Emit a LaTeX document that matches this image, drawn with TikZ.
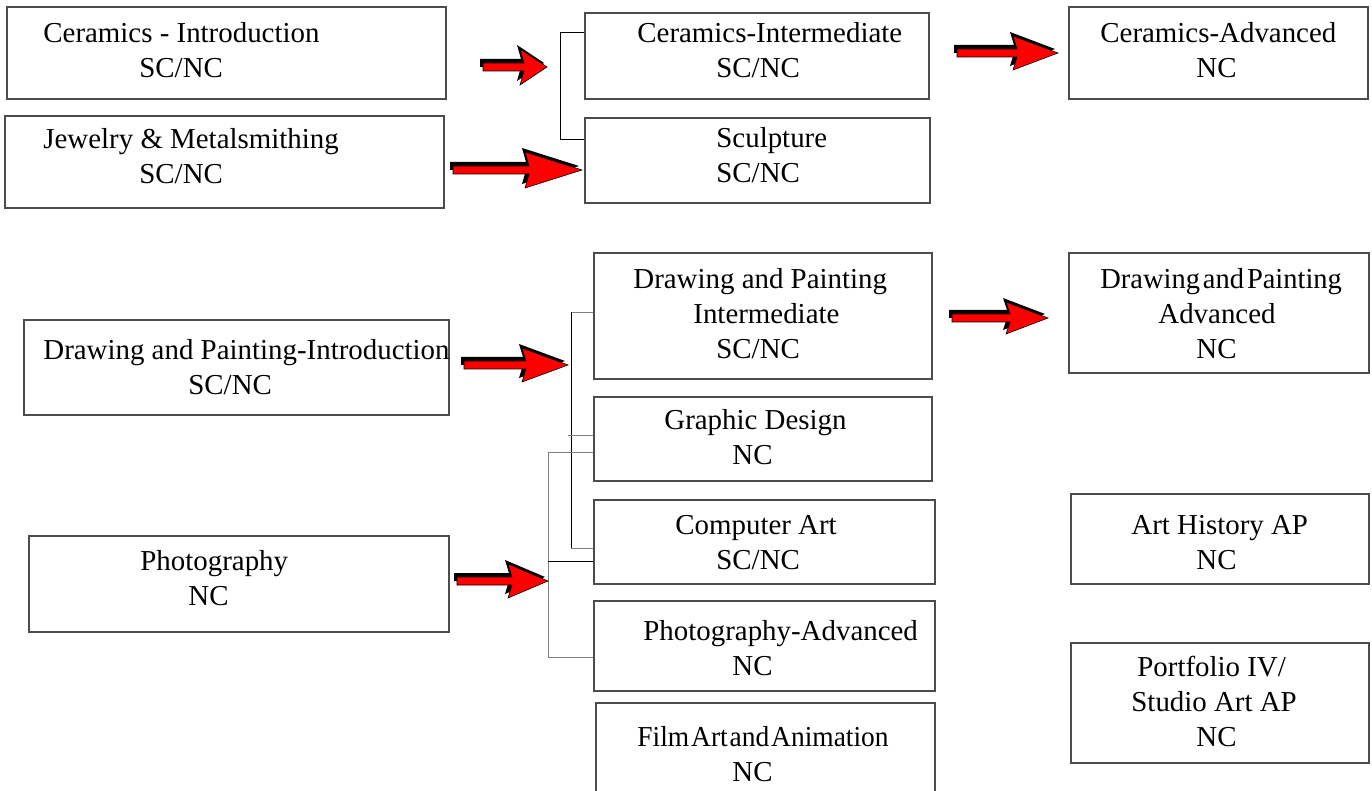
\documentclass[tikz,border=0pt]{standalone}
\usepackage{fontspec}
\setmainfont{Liberation Serif}
\usetikzlibrary{fit,calc}

\tikzset{
  course/.style={draw=black!70, line width=0.7pt, inner sep=0pt},
  coursetext/.style={anchor=north west, align=left, inner sep=0pt,
    font=\fontsize{14.45pt}{17.5pt}\selectfont},
  bracket/.style={line width=0.6pt},
}

% block arrow: start x, centre y, barb x, tip x, half head height
\newcommand{\blockarrow}[5]{
  \fill[black] (#1-3, #2-8) -- (#3+1, #2-8) -- (#3-3, #2-#5-4) -- (#4-3, #2-4)
    -- (#3-3, #2+#5-4) -- (#3+1, #2) -- (#1-3, #2) -- cycle;
  \filldraw[fill=red, draw=black, line width=0.3pt] (#1, #2-4) -- (#3+4, #2-4)
    -- (#3, #2-#5) -- (#4, #2) -- (#3, #2+#5) -- (#3+4, #2+4) -- (#1, #2+4) -- cycle;
}

\begin{document}
\begin{tikzpicture}[x=0.5pt, y=-0.5pt]
  \clip (0,0) rectangle (1372,791);

  % boxes
  \node[course, fit={(7,7) (446,99)}] (cintro) {};
  \node[course, fit={(5,116) (444,208)}] (jewel) {};
  \node[course, fit={(585,13) (929,99)}] (cint) {};
  \node[course, fit={(585,118) (930,203)}] (sculpt) {};
  \node[course, fit={(1069,7) (1368,99)}] (cadv) {};
  \node[course, fit={(594,253) (932,379)}] (dpint) {};
  \node[course, fit={(1069,253) (1369,373)}] (dpadv) {};
  \node[course, fit={(24,320) (449,415)}] (dpintro) {};
  \node[course, fit={(594,397) (932,481)}] (gdes) {};
  \node[course, fit={(594,500) (935,584)}] (cart) {};
  \node[course, fit={(1071,494) (1369,584)}] (arthist) {};
  \node[course, fit={(29,536) (449,632)}] (photo) {};
  \node[course, fit={(594,601) (935,691)}] (padv) {};
  \node[course, fit={(596,703) (935,800)}] (film) {};
  \node[course, fit={(1071,643) (1369,763)}] (portf) {};

  % texts
  \node[coursetext] (cintro-t) at (43,22) {Ceramics - Introduction\\\hspace*{48pt}SC/NC};
  \node[coursetext] (jewel-t) at (43,128) {Jewelry \& Metalsmithing\\\hspace*{48pt}SC/NC};
  \node[coursetext] (cint-t) at (637,22) {Ceramics-Intermediate\\\hspace*{39.5pt}SC/NC};
  \node[coursetext] (sculpt-t) at (716,127) {Sculpture\\SC/NC};
  \node[coursetext] (cadv-t) at (1100,22) {Ceramics-Advanced\\\hspace*{48pt}NC};
  \node[coursetext] (dpint-t) at (633,268) {Drawing and Painting\\\hspace*{30pt}Intermediate\\\hspace*{41.5pt}SC/NC};
  \node[coursetext] (dpadv-t) at (1100,268) {\scalebox{0.985}[1]{Drawing\hspace{1.5pt}and\hspace{1.5pt}Painting}\\\hspace*{29pt}Advanced\\\hspace*{48pt}NC};
  \node[coursetext] (dpintro-t) at (43,339) {Drawing and Painting-Introduction\\\hspace*{72.5pt}SC/NC};
  \node[coursetext] (gdes-t) at (664,409) {Graphic Design\\\hspace*{34pt}NC};
  \node[coursetext] (cart-t) at (675,515) {Computer Art\\\hspace*{20.5pt}SC/NC};
  \node[coursetext] (arthist-t) at (1131,515) {Art History AP\\\hspace*{32.5pt}NC};
  \node[coursetext] (photo-t) at (140,550) {Photography\\\hspace*{24pt}NC};
  \node[coursetext] (padv-t) at (643,620) {Photography-Advanced\\\hspace*{44.5pt}NC};
  \node[coursetext] (film-t) at (637,726) {\scalebox{0.95}[1]{Film\hspace{1pt}Art\hspace{1pt}and\hspace{1pt}Animation}\\\hspace*{47.5pt}NC};
  \node[coursetext] (portf-t) at (1131,656) {\hspace*{3pt}Portfolio IV/\\Studio Art AP\\\hspace*{32.5pt}NC};

  % brackets
  \draw[bracket] ($(cint.north west)+(0,20)$) -- ++(-24,0) |- ($(sculpt.north west)+(0,22)$);
  \draw[bracket, gray] ($(dpint.north west)+(0,60)$) -- ++(-22,0);
  \draw[bracket] ($(dpint.north west)+(-22,60)$) -- ($(cart.north west)+(-22,49)$);
  \draw[bracket, gray] ($(cart.north west)+(-22,49)$) -- ($(cart.north west)+(0,49)$);
  \draw[bracket, gray] ($(gdes.north west)+(-25,39)$) -- ($(gdes.north west)+(0,39)$);
  \draw[bracket, gray] ($(gdes.north west)+(0,56)$) -| ($(padv.north west)+(-45,57)$) -- ($(padv.north west)+(0,57)$);
  \draw[bracket] ($(cart.north west)+(-45,62)$) -- ($(cart.north west)+(0,62)$);

  % arrows
  \blockarrow{483}{67}{520}{547}{18}
  \blockarrow{453}{170}{525}{582}{18}
  \blockarrow{464}{365}{522}{568}{17}
  \blockarrow{457}{581}{508}{548}{17}
  \blockarrow{957}{53}{1013}{1058}{17}
  \blockarrow{952}{318}{1006}{1048}{16}
\end{tikzpicture}
\end{document}
